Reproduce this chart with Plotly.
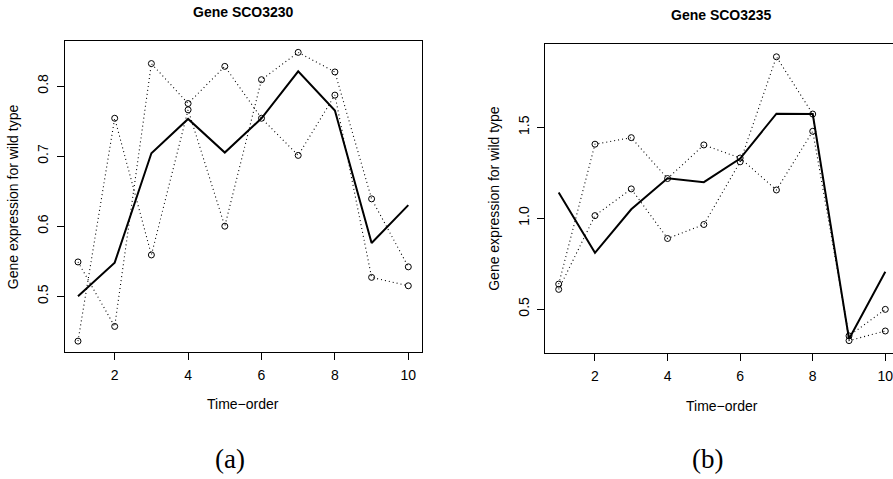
import plotly.graph_objects as go

W, H = 893, 479

time_order = [1, 2, 3, 4, 5, 6, 7, 8, 9, 10]

# Gene SCO3230
a_solid = [0.500, 0.548, 0.704, 0.753, 0.705, 0.754, 0.821, 0.765, 0.576, 0.630]
a_rep1 = [0.549, 0.457, 0.832, 0.775, 0.828, 0.754, 0.701, 0.787, 0.527, 0.515]
a_rep2 = [0.436, 0.754, 0.559, 0.766, 0.600, 0.809, 0.848, 0.820, 0.639, 0.542]

# Gene SCO3235
b_solid = [1.141, 0.809, 1.049, 1.220, 1.198, 1.328, 1.575, 1.573, 0.335, 0.705]
b_rep1 = [0.637, 1.407, 1.443, 1.218, 1.403, 1.331, 1.155, 1.478, 0.352, 0.498]
b_rep2 = [0.608, 1.014, 1.161, 0.888, 0.965, 1.310, 1.888, 1.573, 0.326, 0.379]

x_ticks = [2, 4, 6, 8, 10]
a_yticks = [0.5, 0.6, 0.7, 0.8]
a_yticktext = ["0.5", "0.6", "0.7", "0.8"]
b_yticks = [0.5, 1.0, 1.5]
b_yticktext = ["0.5", "1.0", "1.5"]

titles = ["Gene SCO3230", "Gene SCO3235"]
ylabel = "Gene expression for wild type"
xlabel = "Time\u2212order"
captions = ["(a)", "(b)"]

FONT = "Liberation Sans"
SERIF = "Liberation Serif"

fig = go.Figure()

def add_panel(solid, r1, r2, xa, ya):
    for r in (r1, r2):
        fig.add_trace(go.Scatter(
            x=time_order, y=r, mode="lines+markers", xaxis=xa, yaxis=ya,
            line=dict(color="black", width=1.1, dash="1px,3px"),
            marker=dict(symbol="circle-open", size=6, color="black",
                        line=dict(width=1, color="black")),
            showlegend=False, hoverinfo="skip"))
    fig.add_trace(go.Scatter(
        x=time_order, y=solid, mode="lines", xaxis=xa, yaxis=ya,
        line=dict(color="black", width=2),
        showlegend=False, hoverinfo="skip"))

add_panel(a_solid, a_rep1, a_rep2, "x", "y")
add_panel(b_solid, b_rep1, b_rep2, "x2", "y2")

def px(x):
    return x / W

def py(y):
    return 1 - y / H

common_axis = dict(showgrid=False, zeroline=False, showline=True,
                   linecolor="black", linewidth=1, ticks="outside",
                   ticklen=7, tickwidth=1, tickcolor="black",
                   ticklabeloverflow="allow", ticklabelstandoff=3,
                   tickfont=dict(family=FONT, size=14, color="black"))

fig.update_layout(
    width=W, height=H,
    margin=dict(l=0, r=0, t=0, b=0),
    paper_bgcolor="white", plot_bgcolor="white",
    font=dict(family=FONT, size=14, color="black"),
    xaxis=dict(domain=[px(65), px(421.7)], range=[0.646, 10.365],
               tickvals=x_ticks, anchor="y", mirror=True, **common_axis),
    yaxis=dict(domain=[py(352.3), py(41)], range=[0.4201, 0.8642],
               tickvals=a_yticks, ticktext=a_yticktext, tickangle=-90,
               anchor="x", mirror=True, **common_axis),
    xaxis2=dict(domain=[px(545.3), 1.0], range=[0.631, 10.212],
                tickvals=x_ticks, anchor="y2", mirror=True, **common_axis),
    yaxis2=dict(domain=[py(353.3), py(44.3)], range=[0.2562, 1.9568],
                tickvals=b_yticks, ticktext=b_yticktext, tickangle=-90,
                anchor="x2", mirror=False, **common_axis),
)

ann = []
# titles
ann.append(dict(x=px(243.3), y=py(11.5), text="<b>" + titles[0] + "</b>"))
ann.append(dict(x=px(721.8), y=py(15.3), text="<b>" + titles[1] + "</b>"))
# x labels
ann.append(dict(x=px(243.3), y=py(404), text=xlabel))
ann.append(dict(x=px(721.7), y=py(406), text=xlabel))
# y labels
ann.append(dict(x=px(12.5), y=py(196.7), text=ylabel, textangle=-90))
ann.append(dict(x=px(494), y=py(198.8), text=ylabel, textangle=-90))
for a in ann:
    a.update(xref="paper", yref="paper", showarrow=False,
             xanchor="center", yanchor="middle",
             font=dict(family=FONT, size=14, color="black"))
cap = []
cap.append(dict(x=px(230), y=py(458.7), text=captions[0]))
cap.append(dict(x=px(707.5), y=py(458.7), text=captions[1]))
for a in cap:
    a.update(xref="paper", yref="paper", showarrow=False,
             xanchor="center", yanchor="middle",
             font=dict(family=SERIF, size=27, color="black"))
fig.update_layout(annotations=ann + cap)

fig.write_html(
    "out.html",
    config={"displayModeBar": False},
    post_script="document.body.style.margin='0';document.body.style.overflow='hidden';",
)
